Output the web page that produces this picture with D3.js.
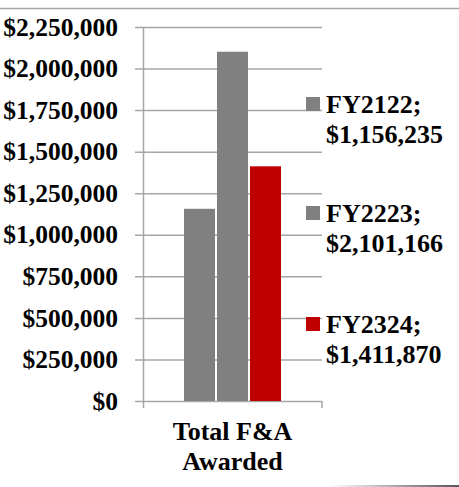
<!DOCTYPE html>
<html><head><meta charset="utf-8">
<script src="https://cdn.jsdelivr.net/npm/d3@7/dist/d3.min.js"></script>
<style>body{margin:0;background:#fff}svg{display:block}</style>
</head><body>
<svg id="c" width="459" height="487"></svg>
<script>
const categories = ["Total F&A Awarded"];
const series = ["FY2122", "FY2223", "FY2324"];
const values = [1156235, 2101166, 1411870];
const valueLabels = ["$1,156,235", "$2,101,166", "$1,411,870"];
const colors = ["#808080", "#808080", "#C00000"];
const yTicks = [0, 250000, 500000, 750000, 1000000, 1250000, 1500000, 1750000, 2000000, 2250000];

const svg = d3.select("#c");
const font = "'Liberation Serif','Times New Roman',serif";
const fs = 26;

// decorative top line
svg.append("line").attr("x1",0).attr("x2",459).attr("y1",8.5).attr("y2",8.5)
  .attr("stroke","#a6a6a6").attr("stroke-width",1.5);
// bottom right fade line
const defs = svg.append("defs");
const g1 = defs.append("linearGradient").attr("id","fade").attr("x1","0").attr("x2","1");
g1.append("stop").attr("offset","0").attr("stop-color","#fff");
g1.append("stop").attr("offset","1").attr("stop-color","#555");
svg.append("rect").attr("x",330).attr("y",485).attr("width",129).attr("height",2).attr("fill","url(#fade)");

const y = d3.scaleLinear().domain([0, 2250000]).range([401, 27]);
const x0 = d3.scaleBand().domain(categories).range([143, 322]).paddingOuter(0.4227).paddingInner(0);
const x1 = d3.scaleBand().domain(series).range([0, x0.bandwidth()]).paddingInner(0.06);

const fmt = d => "$" + d3.format(",")(d);

// y axis with gridlines
const ya = svg.append("g").attr("transform","translate(322,0)")
  .call(d3.axisLeft(y).tickValues(yTicks).tickSize(187).tickPadding(17).tickFormat(fmt));
ya.select(".domain").remove();
ya.selectAll(".tick line").attr("stroke","#a6a6a6").attr("stroke-width",1.5);
ya.selectAll(".tick text").attr("font-family",font).attr("font-size",25.5).attr("font-weight","bold")
  .attr("fill","#000").attr("dy","0.32em");

// vertical axis line
svg.append("line").attr("x1",143.5).attr("x2",143.5).attr("y1",y(2250000)).attr("y2",408)
  .attr("stroke","#a6a6a6").attr("stroke-width",1.5);
svg.append("line").attr("x1",322).attr("x2",322).attr("y1",y(0)).attr("y2",408)
  .attr("stroke","#a6a6a6").attr("stroke-width",1.5);

// bars
const gb = svg.append("g").attr("transform",`translate(${x0(categories[0])},0)`);
gb.selectAll("rect").data(values).join("rect")
  .attr("x",(d,i)=>x1(series[i]))
  .attr("width",x1.bandwidth())
  .attr("y",d=>y(d))
  .attr("height",d=>y(0)-y(d))
  .attr("fill",(d,i)=>colors[i]);

// x label
const cx = x0(categories[0]) + x0.bandwidth()/2;
const xl = svg.append("text").attr("x", cx).attr("y",440)
  .attr("text-anchor","middle").attr("font-family",font).attr("font-size",fs).attr("font-weight","bold");
xl.append("tspan").attr("x", cx).text("Total F&A");
xl.append("tspan").attr("x", cx).attr("dy",30).text("Awarded");

// legend
const legY = [113, 222, 333];
series.forEach((s,i)=>{
  const g = svg.append("g").attr("transform",`translate(306,${legY[i]})`);
  g.append("rect").attr("x",0).attr("y",-16).attr("width",14).attr("height",14).attr("fill",colors[i]);
  const t = g.append("text").attr("x",20).attr("y",0).attr("font-family",font).attr("font-size",fs).attr("font-weight","bold");
  t.append("tspan").attr("x",20).text(s + ";");
  t.append("tspan").attr("x",20).attr("dy",30).text(valueLabels[i]);
});
</script>
</body></html>
